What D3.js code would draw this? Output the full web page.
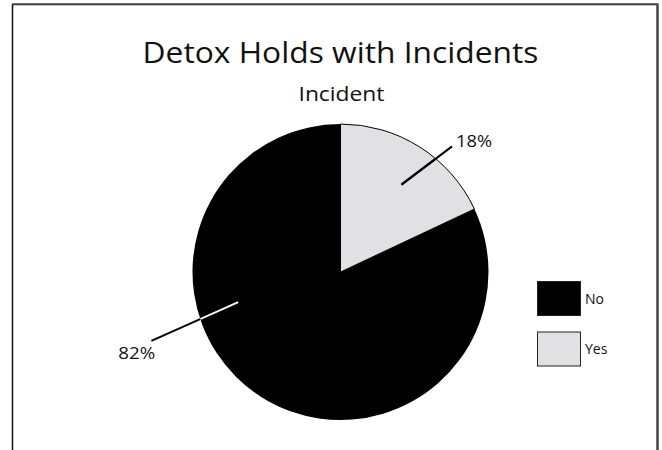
<!DOCTYPE html>
<html><head><meta charset="utf-8">
<script src="https://cdn.jsdelivr.net/npm/d3@7"></script>
<style>html,body{margin:0;padding:0;background:#fff;overflow:hidden}</style>
</head><body>
<script>
// ---- data ----
const categories = ["No", "Yes"];
const values = [82, 18];
const labels = ["82%", "18%"];
const colors = ["#000000", "#e1e1e3"];
const title = "Detox Holds with Incidents";
const subtitle = "Incident";

const W = 662, H = 450;
const FONT = "'Open Sans', 'Noto Sans', sans-serif";
const svg = d3.select("body").append("svg").attr("width", W).attr("height", H);

// frame
svg.append("path").attr("d", `M12.5,460 V4.5 H657`).attr("fill","none").attr("stroke","#111").attr("stroke-width",1.5);
svg.append("line").attr("x1",657.5).attr("x2",657.5).attr("y1",3.5).attr("y2",460).attr("stroke","#444").attr("stroke-width",2.5);
svg.append("line").attr("x1",12).attr("x2",658).attr("y1",4).attr("y2",4).attr("stroke","#555").attr("stroke-width",1.5);

svg.append("text").attr("x",340.5).attr("y",63).attr("text-anchor","middle")
  .attr("font-family",FONT).attr("font-size",29).attr("fill","#111")
  .attr("textLength",396).attr("lengthAdjust","spacingAndGlyphs").text(title);
svg.append("text").attr("x",341.5).attr("y",100.5).attr("text-anchor","middle")
  .attr("font-family",FONT).attr("font-size",20.5).attr("fill","#111")
  .attr("textLength",86).attr("lengthAdjust","spacingAndGlyphs").text(subtitle);

const cx = 340.5, cy = 272, R = 148;
const color = d3.scaleOrdinal().domain(categories).range(colors);
const startA = values[1] / d3.sum(values) * 2 * Math.PI;
const pie = d3.pie().sort(null).value(d => d.v).startAngle(startA).endAngle(startA + 2 * Math.PI);
const arcs = pie(categories.map((c, i) => ({c, v: values[i], l: labels[i]})));
const arc = d3.arc().innerRadius(0).outerRadius(R);

const g = svg.append("g").attr("transform", `translate(${cx},${cy})`);
g.selectAll("path.slice").data(arcs).join("path").attr("class","slice")
  .attr("d", arc).attr("fill", d => color(d.data.c))
  .attr("stroke", "#000").attr("stroke-width", d => d.data.c === "Yes" ? 1 : 0);

// clip paths per slice
const defs = svg.append("defs");
arcs.forEach((d, i) => {
  defs.append("clipPath").attr("id", "clip" + i).append("path").attr("d", arc(d));
});

// leader layout: inner angle offset from mid-angle, outer angle offset, outer radius factor
const leader = {
  "No":  {ai: 0.72, da: 41.2, db: 37.6, ro: 1.36, tx: -33, ty: 18, w: 37},
  "Yes": {ai: 0.72, da: 2.5,  db: 9.2,  ro: 1.135, tx: 4,  ty: 1, w: 36}
};
const pt = (ang, r) => [r * Math.sin(ang), -r * Math.cos(ang)];
arcs.forEach((d, i) => {
  const L = leader[d.data.c];
  let mid = (d.startAngle + d.endAngle) / 2;
  const a1 = mid + L.da * Math.PI / 180, a2 = mid + L.db * Math.PI / 180;
  const p1 = pt(a1, L.ai * R), p2 = pt(a2, L.ro * R);
  g.append("line").attr("x1",p1[0]).attr("y1",p1[1]).attr("x2",p2[0]).attr("y2",p2[1])
    .attr("stroke","#000").attr("stroke-width",2);
  g.append("line").attr("x1",p1[0]).attr("y1",p1[1]).attr("x2",p2[0]).attr("y2",p2[1])
    .attr("clip-path", `url(#clip${i})`)
    .attr("stroke", d.data.c === "No" ? "#fff" : "#000").attr("stroke-width",2);
  g.append("text").attr("x", p2[0] + L.tx).attr("y", p2[1] + L.ty)
    .attr("font-family",FONT).attr("font-size",16.5).attr("fill","#111")
    .attr("textLength", L.w).attr("lengthAdjust","spacingAndGlyphs").text(d.data.l);
});

// legend
const leg = svg.append("g").attr("transform","translate(537,281)");
const li = leg.selectAll("g").data(categories).join("g").attr("transform",(d,i)=>`translate(0,${i*50.5})`);
li.append("rect").attr("x",0.5).attr("y",0.5).attr("width",43).attr("height",34)
  .attr("fill", d => color(d)).attr("stroke","#222").attr("stroke-width",1);
li.append("text").attr("x",48).attr("y",22.5).attr("font-family",FONT).attr("font-size",14)
  .attr("fill","#111").text(d => d);
</script>
</body></html>
